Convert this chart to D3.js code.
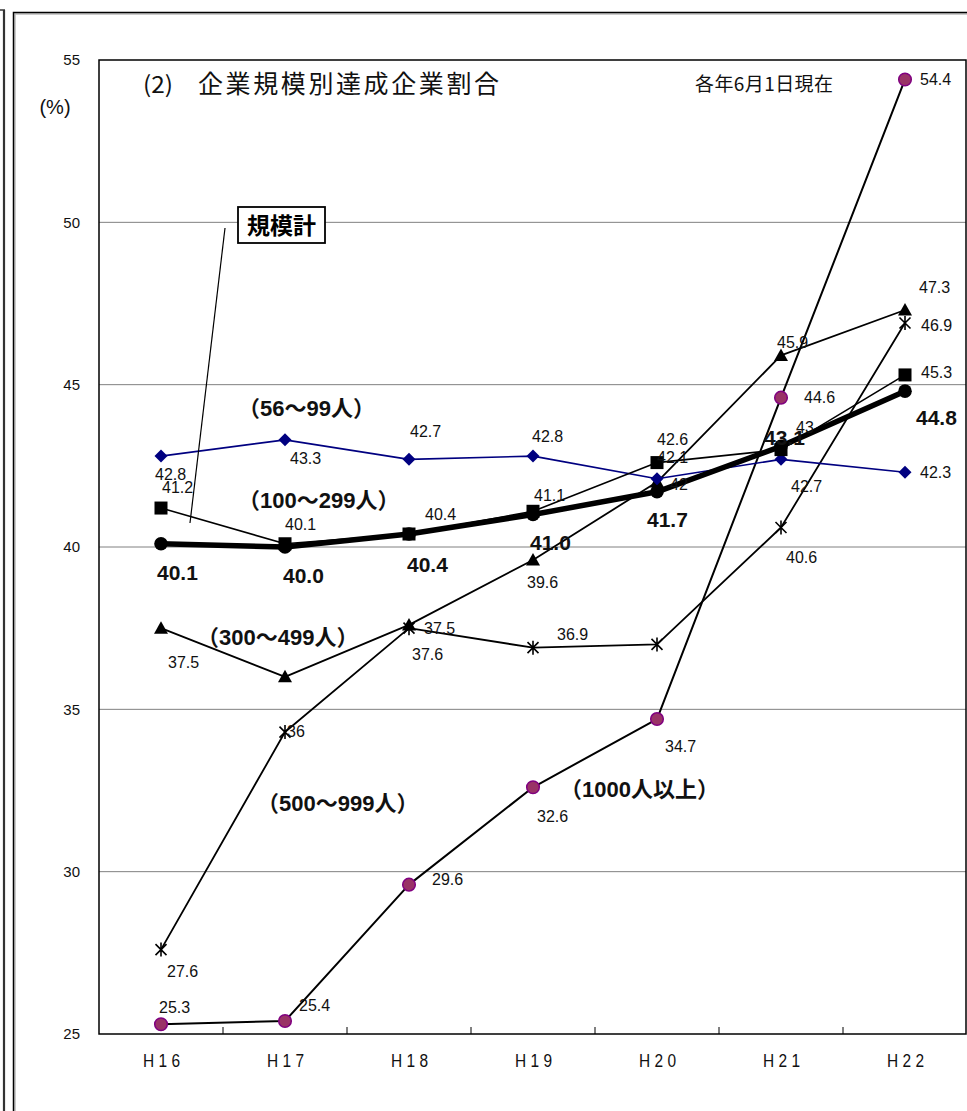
<!DOCTYPE html>
<html>
<head>
<meta charset="utf-8">
<script src="https://cdn.jsdelivr.net/npm/d3@7"></script>
<style>
  body { margin: 0; background: #fff; }
  svg { display: block; }
</style>
</head>
<body>
<div id="chart"></div>
<script>
// ---- data -------------------------------------------------------------
const years = ["H16", "H17", "H18", "H19", "H20", "H21", "H22"];
const yTicks = [25, 30, 35, 40, 45, 50, 55];

const size56    = [42.8, 43.3, 42.7, 42.8, 42.1, 42.7, 42.3];
const size100   = [41.2, 40.1, 40.4, 41.1, 42.6, 43.0, 45.3];
const size300   = [37.5, 36.0, 37.6, 39.6, 42.0, 45.9, 47.3];
const size500   = [27.6, 34.3, 37.5, 36.9, 37.0, 40.6, 46.9];
const size1000  = [25.3, 25.4, 29.6, 32.6, 34.7, 44.6, 54.4];
const sizeTotal = [40.1, 40.0, 40.4, 41.0, 41.7, 43.1, 44.8];

// which points carry a value label
const shown500 = [true, false, true, true, false, true, true];

const seriesNames = ["（56～99人）", "（100～299人）", "（300～499人）", "（500～999人）", "（1000人以上）"];
const totalName = "規模計";
const titleText = "企業規模別達成企業割合";
const titleNo = "(2)";
const asOfText = "各年6月1日現在";
const unitText = "(%)";

// ---- label placement (offsets from each point to the label baseline-start) ----
const off56    = [[-6, 24], [5, 24], [1, -22], [-1, -14], [0, -16], [10, 33], [15, 6]];
const off100   = [[1, -15], [0, -14], [16, -14], [1, -10], [0, -18], [15, -17], [16, 3]];
const off300   = [[7, 40], [2, 60], [3, 35], [-6, 28], [13, 8], [-4, -7], [14, -17]];
const off500   = [[6, 27], [0, 0], [15, 6], [24, -8], [0, 0], [5, 35], [16, 8]];
const off1000  = [[-2, -11], [14, -10], [23, 0], [4, 35], [8, 33], [23, 5], [15, 6]];
const offTotal = [[-4, 36], [-2, 36], [-2, 38], [-3, 35], [-10, 35], [-17, -1], [11, 34]];

// ---- layout -------------------------------------------------------------
const W = 967, H = 1111;
const plot = { left: 99, right: 966, top: 60, bottom: 1034 };

const svg = d3.select("#chart").append("svg")
  .attr("width", W).attr("height", H)
  .attr("font-family", "'Liberation Sans', Arial, 'Noto Sans CJK JP', sans-serif");

const x = d3.scaleBand().domain(years).range([plot.left, plot.left + 7 * 124]).padding(0);
const xc = d => x(d) + x.bandwidth() / 2;
const y = d3.scaleLinear().domain([25, 55]).range([plot.bottom, plot.top]);

// outer frame lines
svg.append("line").attr("x1", 4).attr("x2", 4).attr("y1", 10).attr("y2", H)
  .attr("stroke", "#333").attr("stroke-width", 2.2);
svg.append("line").attr("x1", 0).attr("x2", 5).attr("y1", 10).attr("y2", 10)
  .attr("stroke", "#333").attr("stroke-width", 1.5);
svg.append("path").attr("d", `M15,${H} V14 H${W}`)
  .attr("fill", "none").attr("stroke", "#bbb").attr("stroke-width", 1.5);
svg.append("path").attr("d", `M13.5,${H} V12.5 H${W}`)
  .attr("fill", "none").attr("stroke", "#000").attr("stroke-width", 1.5);

// horizontal gridlines
svg.append("g").selectAll("line")
  .data(yTicks.filter(t => t > 25 && t < 55))
  .join("line")
  .attr("x1", plot.left).attr("x2", plot.right)
  .attr("y1", d => y(d)).attr("y2", d => y(d))
  .attr("stroke", "#808080").attr("stroke-width", 1);

// plot frame
svg.append("rect")
  .attr("x", plot.left).attr("y", plot.top)
  .attr("width", plot.right - plot.left).attr("height", plot.bottom - plot.top)
  .attr("fill", "none").attr("stroke", "#000").attr("stroke-width", 1.5);

// y axis tick labels
svg.append("g").selectAll("text").data(yTicks).join("text")
  .attr("x", 80).attr("y", d => y(d)).attr("dy", "0.35em")
  .attr("text-anchor", "end").attr("font-size", 15).attr("fill", "#111")
  .text(d => d);
svg.append("text").attr("x", 55).attr("y", 114).attr("text-anchor", "middle")
  .attr("font-size", 20).attr("fill", "#111").text(unitText);

// x axis: inner tick marks between categories and labels
svg.append("g").selectAll("line").data(years.slice(1)).join("line")
  .attr("x1", d => x(d)).attr("x2", d => x(d))
  .attr("y1", plot.bottom).attr("y2", plot.bottom - 7)
  .attr("stroke", "#000").attr("stroke-width", 1);
svg.append("g").selectAll("text").data(years).join("text")
  .attr("x", d => xc(d) - 18).attr("y", 1067)
  .attr("font-size", 18).attr("fill", "#111")
  .attr("textLength", 37).attr("lengthAdjust", "spacingAndGlyphs")
  .text(d => d.split("").join(" "));

// title and note
svg.append("text").attr("x", 143).attr("y", 93)
  .attr("font-family", "'Noto Sans CJK JP', sans-serif")
  .attr("font-size", 23).attr("fill", "#111")
  .attr("textLength", 30).attr("lengthAdjust", "spacingAndGlyphs")
  .text(titleNo);
svg.append("text").attr("x", 198).attr("y", 93)
  .attr("font-family", "'Noto Sans CJK JP', sans-serif")
  .attr("font-size", 25).attr("fill", "#111")
  .attr("textLength", 301).attr("lengthAdjust", "spacing")
  .text(titleText);
svg.append("text").attr("x", 695).attr("y", 91)
  .attr("font-family", "'Noto Sans CJK JP', sans-serif")
  .attr("font-size", 19).attr("fill", "#111")
  .attr("textLength", 138).attr("lengthAdjust", "spacing")
  .text(asOfText);

// ---- series ---------------------------------------------------------------
const line = d3.line().x((d, i) => xc(years[i])).y(d => y(d));

function drawLine(vals, color, width) {
  svg.append("path").datum(vals).attr("d", line)
    .attr("fill", "none").attr("stroke", color).attr("stroke-width", width)
    .attr("stroke-linejoin", "round");
}

function drawMarkers(vals, draw) {
  const g = svg.append("g");
  vals.forEach((v, i) => draw(g.append("g").attr("transform", `translate(${xc(years[i])},${y(v)})`)));
}

function drawLabels(vals, offs, fmt, opts, mask) {
  const pts = vals.map((v, i) => ({ v, i })).filter(p => !mask || mask[p.i]);
  svg.append("g").selectAll("text").data(pts).join("text")
    .attr("x", p => xc(years[p.i]) + offs[p.i][0])
    .attr("y", p => y(p.v) + offs[p.i][1])
    .attr("font-size", opts.size).attr("font-weight", opts.weight || "normal")
    .attr("fill", "#111")
    .text(p => fmt(p.v));
}

// 1000人以上
drawLine(size1000, "#000", 2);
// 500～999人
drawLine(size500, "#000", 1.8);
// 300～499人
drawLine(size300, "#000", 1.8);
// 56～99人
drawLine(size56, "#000080", 1.6);
// 100～299人
drawLine(size100, "#000", 1.6);
// total
drawLine(sizeTotal, "#000", 5.5);

drawMarkers(size1000, g => g.append("circle").attr("r", 6.3)
  .attr("fill", "#993366").attr("stroke", "#800080").attr("stroke-width", 1.5));
drawMarkers(size500, g => g.append("path")
  .attr("d", "M-5.5,-5.5L5.5,5.5M-5.5,5.5L5.5,-5.5M0,-7L0,7")
  .attr("stroke", "#000").attr("stroke-width", 1.6).attr("fill", "none"));
drawMarkers(size300, g => g.append("path")
  .attr("d", "M0,-7L7,5.5L-7,5.5Z").attr("fill", "#000"));
drawMarkers(size56, g => g.append("path")
  .attr("d", "M0,-6.5L6.5,0L0,6.5L-6.5,0Z").attr("fill", "#000080"));
drawMarkers(size100, g => g.append("rect")
  .attr("x", -6.5).attr("y", -6.5).attr("width", 13).attr("height", 13).attr("fill", "#000"));
drawMarkers(sizeTotal, g => g.append("circle").attr("r", 6.8).attr("fill", "#000"));

// value labels
const fmtGeneral = d => String(d);
const fmtFixed = d => d.toFixed(1);
drawLabels(size56, off56, fmtGeneral, { size: 16 });
drawLabels(size100, off100, fmtGeneral, { size: 16 });
drawLabels(size300, off300, fmtGeneral, { size: 16 });
drawLabels(size500, off500, fmtGeneral, { size: 16 }, shown500);
drawLabels(size1000, off1000, fmtGeneral, { size: 16 });
drawLabels(sizeTotal, offTotal, fmtFixed, { size: 21, weight: "bold" });

// series name labels
const nameSpots = [[238, 416], [238, 508], [197, 645], [257, 811], [560, 797]];
svg.append("g").selectAll("text").data(seriesNames).join("text")
  .attr("x", (d, i) => nameSpots[i][0]).attr("y", (d, i) => nameSpots[i][1])
  .attr("font-size", 22).attr("font-weight", "bold").attr("fill", "#111")
  .text(d => d);

// total callout box with leader line
svg.append("line").attr("x1", 225).attr("y1", 228).attr("x2", 190).attr("y2", 523)
  .attr("stroke", "#000").attr("stroke-width", 1.2);
svg.append("rect").attr("x", 238).attr("y", 207).attr("width", 87).attr("height", 36)
  .attr("fill", "#fff").attr("stroke", "#000").attr("stroke-width", 1.8);
svg.append("text").attr("x", 281.5).attr("y", 234).attr("text-anchor", "middle")
  .attr("font-family", "'Noto Sans CJK JP', sans-serif")
  .attr("font-size", 23).attr("font-weight", "bold").attr("fill", "#000")
  .text(totalName);
</script>
</body>
</html>
